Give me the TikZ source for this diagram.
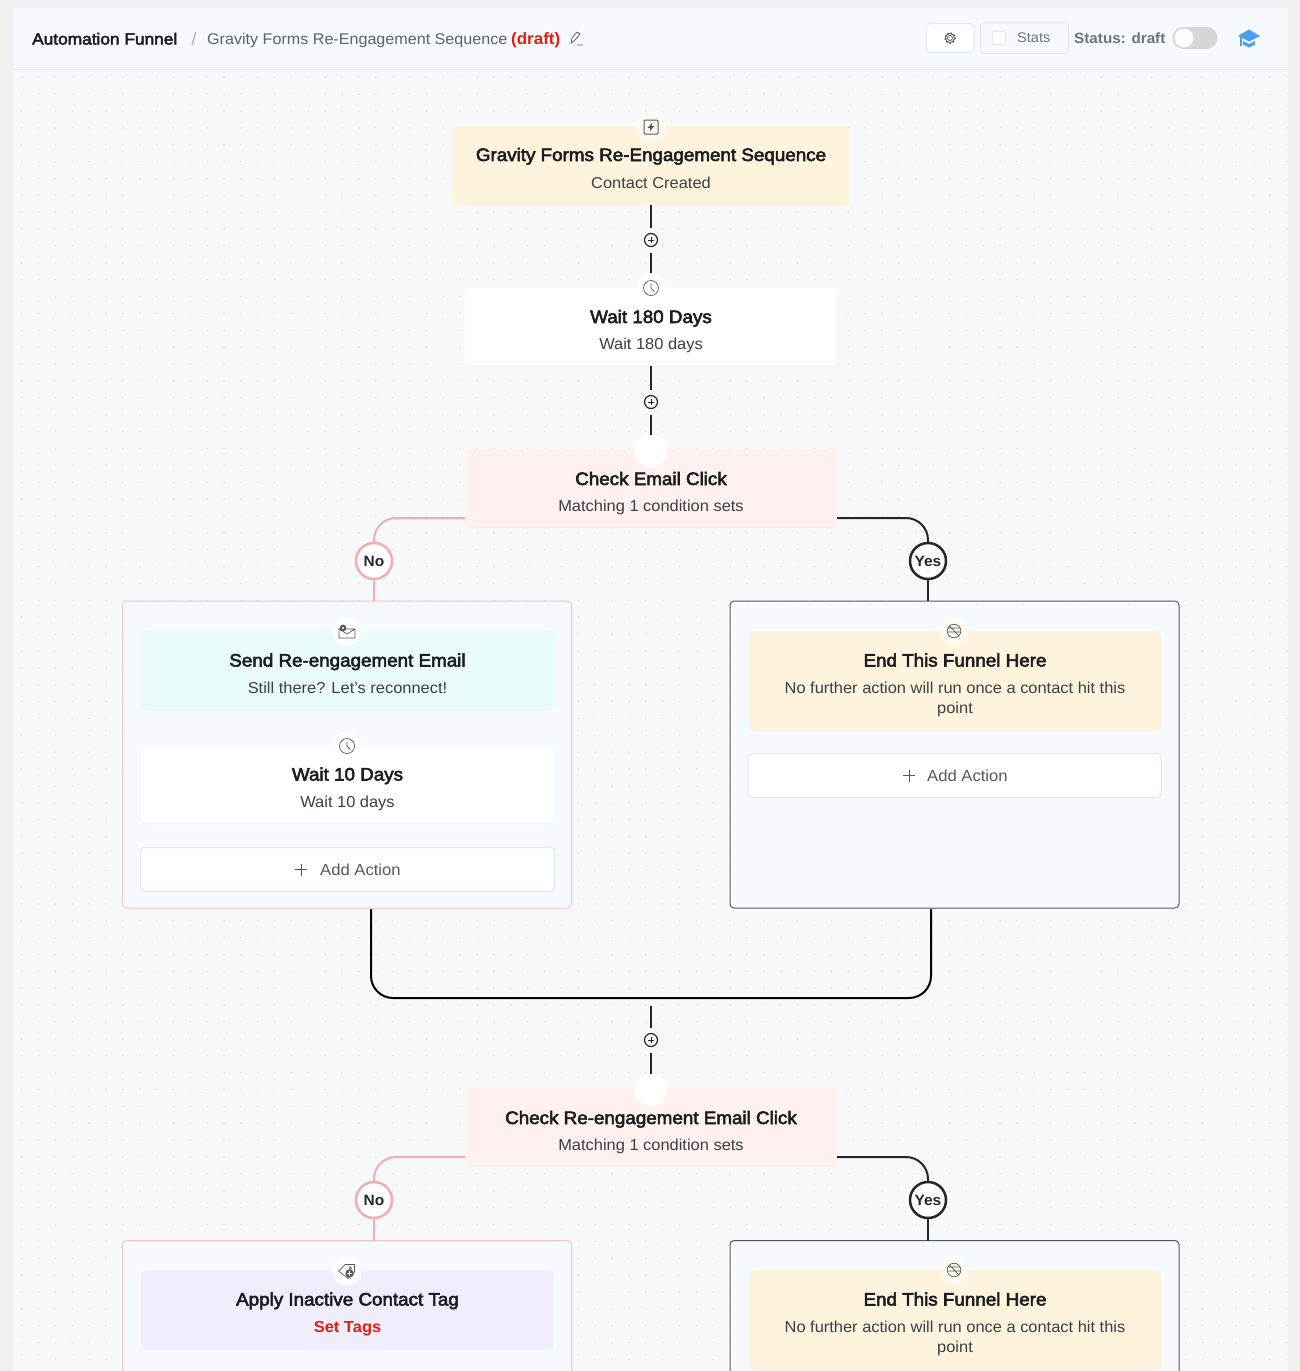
\documentclass[tikz,border=0pt]{standalone}
\usepackage{fontspec}
\setmainfont{Liberation Sans}
\newfontfamily\ttlfam[FakeBold=3,FakeStretch=1.045]{Liberation Sans}
\newfontfamily\headfam[FakeBold=3,FakeStretch=1.08]{Liberation Sans}
\newfontfamily\subfam[FakeStretch=1.04]{Liberation Sans}
\newfontfamily\bldfam[FakeStretch=1.03]{Liberation Sans Bold}
\definecolor{outerbg}{HTML}{F1F1F1}
\definecolor{canvasbg}{HTML}{F7F8FA}
\definecolor{headbg}{HTML}{F6F9FD}
\definecolor{hline}{HTML}{E4E7EB}
\definecolor{griddot}{HTML}{DDE0E4}
\definecolor{ink}{HTML}{1A1C22}
\definecolor{subink}{HTML}{3A3E45}
\definecolor{dark}{HTML}{26262A}
\definecolor{pinkl}{HTML}{F2AEAE}
\definecolor{pinkb}{HTML}{F5C6C6}
\definecolor{cream}{HTML}{FEF4DE}
\definecolor{rose}{HTML}{FEF1EF}
\definecolor{mint}{HTML}{E9FAFA}
\definecolor{lilac}{HTML}{F1EDFC}
\definecolor{redt}{HTML}{E3200F}
\definecolor{greyt}{HTML}{6B7280}
\definecolor{icong}{HTML}{55585E}
\definecolor{capblue}{HTML}{4A9FF5}
\tikzset{
  x=1pt,y=-1pt,
  card/.style={rectangle,rounded corners=6pt,draw=none,inner sep=0pt,outer sep=0pt},
  ttl/.style={font=\ttlfam\fontsize{18}{20}\selectfont,text=ink,anchor=base,inner sep=0pt},
  subt/.style={font=\subfam\fontsize{15.8}{18}\selectfont,text=subink,anchor=base,inner sep=0pt},
  halo/.style={circle,fill=#1,draw=none,inner sep=0pt,outer sep=0pt,minimum size=30pt},
  plusn/.style={circle,fill=canvasbg,draw=none,inner sep=0pt,outer sep=0pt,minimum size=25pt},
  conn/.style={draw=dark,line width=2pt},
  pconn/.style={draw=pinkl,line width=2pt},
  tagpink/.style={circle,draw=pinkl,line width=2.5pt,fill=white,minimum size=36pt,inner sep=0pt,outer sep=0pt,text=dark,font=\bldfam\fontsize{15}{17}\selectfont},
  tagdark/.style={circle,draw=dark,line width=2.5pt,fill=white,minimum size=36pt,inner sep=0pt,outer sep=0pt,text=dark,font=\bldfam\fontsize{15}{17}\selectfont},
  boxp/.style={rectangle,rounded corners=4pt,draw=pinkb,line width=1pt,fill=headbg,inner sep=0pt,outer sep=0pt},
  boxd/.style={rectangle,rounded corners=4pt,draw=icong,line width=1pt,fill=headbg,inner sep=0pt,outer sep=0pt},
  addb/.style={rectangle,rounded corners=4pt,draw=hline,line width=1pt,fill=white,inner sep=0pt,outer sep=0pt},
  addt/.style={font=\subfam\fontsize{16}{18}\selectfont,text=icong,anchor=base,inner sep=0pt},
  ico/.style={draw=icong,line width=.7pt},
  plusicon/.pic={\draw[dark,line width=1.2pt] (0,0) circle (6.5);\draw[dark,line width=1pt] (-3,0)--(3,0) (0,-3)--(0,3);},
  clockicon/.pic={\draw[ico] (0,0) circle (7.5);\draw[ico] (0,-4.5)--(0,0)--(3.5,4);},
  endicon/.pic={\draw[ico] (0,0) circle (6.8);\draw[ico] (-6,-3)--(6,-3) (-6,1)--(6,1) (-4.5,-5)--(5,5);},
  mailicon/.pic={\draw[ico] (-8,-3)--(8,-3)--(8,6)--(-8,6)--cycle (-8,-3)--(0,2)--(8,-3);\fill[icong] (-4,-4) circle (3.4);\fill[white] (-4,-4) circle (1.2);},
  tagicon/.pic={\draw[ico] (-8.5,0)--(-2,-6.5)--(7.5,-6.5)--(7.5,1)--(1,7.5)--cycle;\draw[ico] (3.5,-3) circle (1);\fill[icong] (2.5,2.5) circle (4.2);\draw[white,line width=.8pt] (0.2,2.5)--(4.8,2.5) (2.5,.2)--(2.5,4.8);},
  bolticon/.pic={\draw[ico,line width=1pt,rounded corners=1pt] (-7,-7) rectangle (7,7);\fill[icong] (1.5,-4.5)--(-3.5,1)--(-.5,1)--(-1.5,4.5)--(3.5,-1)--(.5,-1)--cycle;},
}
\begin{document}
\begin{tikzpicture}
\useasboundingbox (0,0) rectangle (1300,1371);
\clip (0,0) rectangle (1300,1371);
% backgrounds
\fill[outerbg] (0,0) rectangle (1300,1371);
\fill[canvasbg] (14,69) rectangle (1288,1371);
\fill[headbg] (14,8) rectangle (1288,69);
\draw[hline,line width=1pt] (14,69.5) -- (1288,69.5);
\foreach \i in {0,...,75}{\foreach \j in {0,...,76}{\fill[griddot] ({21.6+16.87*\i},{77.3+16.87*\j}) circle (.85);}}
% header
\node[font=\headfam\fontsize{16}{18}\selectfont,text=ink,anchor=base west,inner sep=0pt] (hA) at (32,44.5) {Automation Funnel};
\node[font=\subfam\fontsize{18}{20}\selectfont,text=black!30,anchor=base,inner sep=0pt] (hS) at (194,45.5) {/};
\node[font=\subfam\fontsize{15.5}{18}\selectfont,text=greyt!85!black,anchor=base west,inner sep=0pt] (hB) at (207,44.5) {Gravity Forms Re-Engagement Sequence};
\node[font=\bldfam\fontsize{16.5}{18}\selectfont,text=redt,anchor=base west,inner sep=0pt] (hC) at (511,44.5) {(draft)};
\draw[icong,line width=.7pt] (571,43)--(572,38)--(577,32)--(580,34)--(575,40)--cycle (577,45)--(583,45);
\node[addb,minimum width=48pt,minimum height=29pt] (gear) at (950,38) {};
\draw[icong,line width=.8pt] (950,38) circle (2.5) (950,38) circle (4.5);
\draw[icong,line width=1.4pt,dash pattern=on 1.6pt off 1.9pt] (950,38) circle (5.2);
\node[rectangle,rounded corners=3pt,draw=hline,line width=1pt,fill=headbg,minimum width=88pt,minimum height=31pt,inner sep=0pt] (statsb) at (1024.5,38) {};
\node[rectangle,draw=hline,line width=1pt,fill=white,rounded corners=1pt,minimum size=13pt,inner sep=0pt] (chk) at (999,38) {};
\node[font=\subfam\fontsize{14}{15}\selectfont,text=greyt,anchor=base west,inner sep=0pt] (stt) at (1017,42.8) {Stats};
\node[font=\bldfam\fontsize{14.8}{17}\selectfont,text=greyt,anchor=base west,inner sep=0pt] (sta) at (1074,43) {Status: draft};
\node[rectangle,rounded corners=11pt,fill=black!14!headbg,minimum width=45pt,minimum height=22pt,inner sep=0pt] (tog) at (1195,38) {};
\node[circle,fill=white,minimum size=19pt,inner sep=0pt] (togk) at (1184,38) {};
\fill[capblue] (1238,36)--(1249,29.5)--(1260,36)--(1249,41.5)--cycle;
\fill[capblue] (1243,41)--(1249,44)--(1255,41)--(1255,44.5)--(1249,47.5)--(1243,44.5)--cycle;
\fill[capblue] (1239.5,37)--(1241.5,37)--(1241.5,46)--(1239.5,46)--cycle;
% containers
\node[boxp,minimum width=449pt,minimum height=307pt] (boxL1) at (347,754.5) {};
\node[boxd,minimum width=449pt,minimum height=307pt] (boxR1) at (954.5,754.5) {};
\node[boxp,minimum width=449pt,minimum height=240pt] (boxL2) at (347,1360.5) {};
\node[boxd,minimum width=449pt,minimum height=240pt] (boxR2) at (954.5,1360.5) {};
% shadows
\fill[black!5,rounded corners=6pt] (452,127) rectangle (850,206);
\fill[black!5,rounded corners=6pt] (465,289) rectangle (837,367);
\fill[black!5,rounded corners=6pt] (465,450) rectangle (837,528);
\fill[black!5,rounded corners=6pt] (465,1089) rectangle (837,1167);
\fill[black!5,rounded corners=6pt] (141,632) rectangle (554,710);
\fill[black!5,rounded corners=6pt] (141,746) rectangle (554,824);
\fill[black!5,rounded corners=6pt] (749,632) rectangle (1161,731);
\fill[black!5,rounded corners=6pt] (141,1271) rectangle (554,1350);
\fill[black!5,rounded corners=6pt] (749,1271) rectangle (1161,1370);
% connector end coordinates
\coordinate (c1w) at (465,518);
\coordinate (c1e) at (837,518);
\coordinate (c2w) at (465,1157);
\coordinate (c2e) at (837,1157);
\coordinate (mL) at (371,909);
\coordinate (mLb) at (371,998);
\coordinate (mRb) at (931,998);
\coordinate (mR) at (931,909);
\coordinate (mOut) at (651,1006);
% cards
\node[card,fill=cream,minimum width=398pt,minimum height=79pt] (trig) at (651,165.5) {};
\node[card,fill=white,minimum width=372pt,minimum height=78pt] (wait1) at (651,327) {};
\node[card,fill=rose,minimum width=372pt,minimum height=78pt] (chk1) at (651,488) {};
\node[card,fill=mint,minimum width=413pt,minimum height=78pt] (send) at (347.5,670) {};
\node[card,fill=white,minimum width=413pt,minimum height=78pt] (wait2) at (347.5,784) {};
\node[addb,minimum width=414pt,minimum height=44pt] (addL) at (347.5,869.5) {};
\node[card,fill=cream,minimum width=412pt,minimum height=99pt] (end1) at (955,680.5) {};
\node[addb,minimum width=413pt,minimum height=44pt] (addR) at (954.5,775.5) {};
\node[card,fill=rose,minimum width=372pt,minimum height=78pt] (chk2) at (651,1127) {};
\node[card,fill=lilac,minimum width=413pt,minimum height=79pt] (apply) at (347.5,1309.5) {};
\node[card,fill=cream,minimum width=412pt,minimum height=99pt] (end2) at (955,1319.5) {};
% small round nodes
\node[halo=cream!40!white] (iTrig) at (651,127) {};
\node[halo=white] (iWait1) at (651,288) {};
\node[halo=white,minimum size=33pt] (iChk1) at (651,451) {};
\node[halo=white,minimum size=29pt] (iSend) at (347,632) {};
\node[halo=white,minimum size=29pt] (iWait2) at (347,746) {};
\node[halo=cream!40!white,minimum size=29pt] (iEnd1) at (954,631) {};
\node[halo=white,minimum size=33pt] (iChk2) at (651,1090) {};
\node[halo=white,minimum size=29pt] (iApply) at (347,1271) {};
\node[halo=cream!40!white,minimum size=29pt] (iEnd2) at (954,1270) {};
\node[plusn] (p1) at (651,240) {};
\node[plusn] (p2) at (651,402) {};
\node[plusn] (p3) at (651,1040) {};
\pic at (p1) {plusicon};
\pic at (p2) {plusicon};
\pic at (p3) {plusicon};
\pic at (iTrig) {bolticon};
\pic at (iWait1) {clockicon};
\pic at (iWait2) {clockicon};
\pic at (iSend) {mailicon};
\pic at (iEnd1) {endicon};
\pic at (iEnd2) {endicon};
\pic at (iApply) {tagicon};
% main connectors
\draw[conn] (trig.south) -- (p1.north);
\draw[conn] (p1.south) -- (iWait1.north);
\draw[conn] (wait1.south) -- (p2.north);
\draw[conn] (p2.south) -- (iChk1.north);
\draw[conn] (mOut) -- (p3.north);
\draw[conn] (p3.south) -- (iChk2.north);
\draw[draw=black,line width=2pt,rounded corners=22pt] (mL) -- (mLb) -- (mRb) -- (mR);
% branch tags
\node[tagpink] (no1) at (374,561) {No};
\node[tagdark] (yes1) at (928,561) {Yes};
\node[tagpink] (no2) at (374,1200) {No};
\node[tagdark] (yes2) at (928,1200) {Yes};
\draw[pconn,rounded corners=22pt] (c1w) -- (no1.north |- c1w) -- (no1.north);
\draw[conn,rounded corners=22pt] (c1e) -- (yes1.north |- c1e) -- (yes1.north);
\draw[pconn,rounded corners=22pt] (c2w) -- (no2.north |- c2w) -- (no2.north);
\draw[conn,rounded corners=22pt] (c2e) -- (yes2.north |- c2e) -- (yes2.north);
\draw[pconn] (no1.south) -- (no1.south |- boxL1.north);
\draw[conn] (yes1.south) -- (yes1.south |- boxR1.north);
\draw[pconn] (no2.south) -- (no2.south |- boxL2.north);
\draw[conn] (yes2.south) -- (yes2.south |- boxR2.north);
% texts
\node[ttl] (t1) at (651,161) {Gravity Forms Re-Engagement Sequence};
\node[subt] (s1) at (651,188) {Contact Created};
\node[ttl] (t2) at (651,323) {Wait 180 Days};
\node[subt] (s2) at (651,349.5) {Wait 180 days};
\node[ttl] (t3) at (651,485) {Check Email Click};
\node[subt] (s3) at (651,511.5) {Matching 1 condition sets};
\node[ttl] (t4) at (347.5,666.5) {Send Re-engagement Email};
\node[subt] (s4) at (347.5,693) {Still there? Let’s reconnect!};
\node[ttl] (t5) at (347.5,780.5) {Wait 10 Days};
\node[subt] (s5) at (347.5,807) {Wait 10 days};
\node[ttl] (t6) at (955,666.5) {End This Funnel Here};
\node[subt] (s6a) at (955,693) {No further action will run once a contact hit this};
\node[subt] (s6b) at (955,713) {point};
\node[ttl] (t7) at (651,1124) {Check Re-engagement Email Click};
\node[subt] (s7) at (651,1150.5) {Matching 1 condition sets};
\node[ttl] (t8) at (347.5,1305.5) {Apply Inactive Contact Tag};
\node[font=\bldfam\fontsize{16}{18}\selectfont,text=redt,anchor=base,inner sep=0pt] (s8) at (347.5,1332) {Set Tags};
\node[ttl] (t9) at (955,1305.5) {End This Funnel Here};
\node[subt] (s9a) at (955,1332) {No further action will run once a contact hit this};
\node[subt] (s9b) at (955,1352) {point};
\node[addt,anchor=base west] (aL) at (320,875) {Add Action};
\node[addt,anchor=base west] (aR) at (927,781) {Add Action};
\draw[icong,line width=1pt] (295,869.5)--(307,869.5) (301,863.5)--(301,875.5);
\draw[icong,line width=1pt] (903,775.5)--(915,775.5) (909,769.5)--(909,781.5);
\end{tikzpicture}
\end{document}
